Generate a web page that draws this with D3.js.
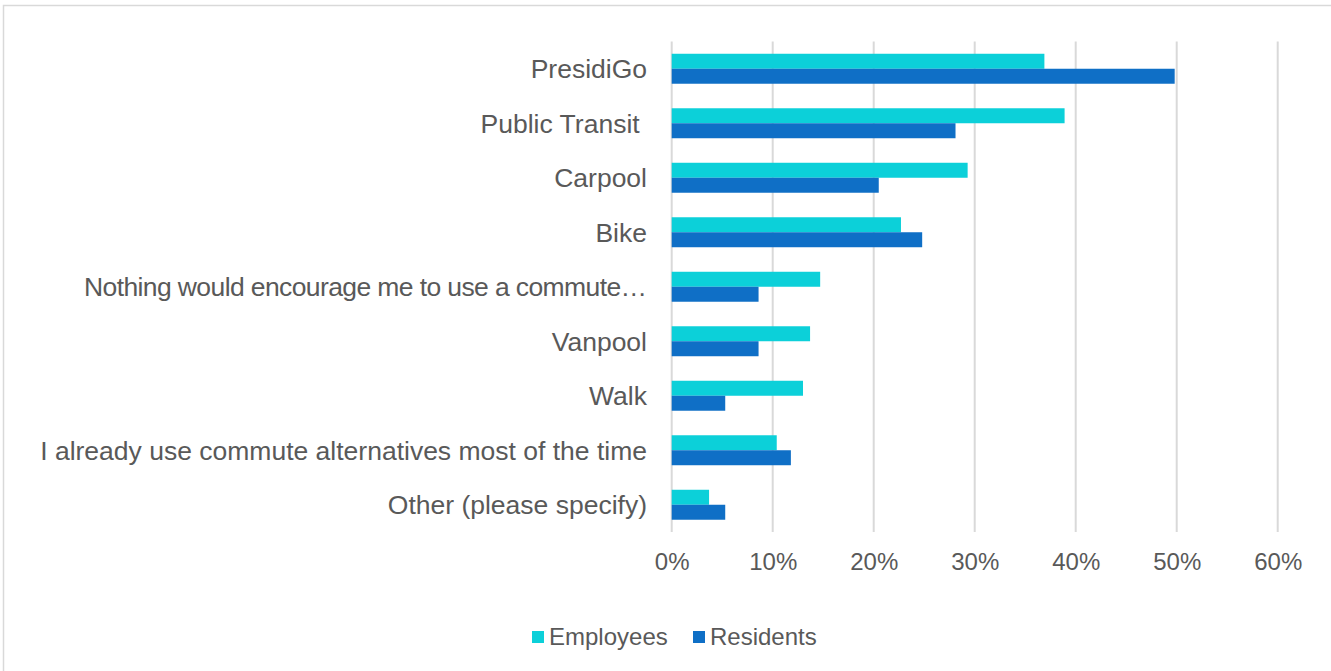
<!DOCTYPE html>
<html>
<head>
<meta charset="utf-8">
<script src="https://cdn.jsdelivr.net/npm/d3@7"></script>
<style>
  html, body { margin: 0; padding: 0; background: #fff; }
  svg { display: block; }
  text { font-family: "Liberation Sans", Arial, sans-serif; fill: #595959; white-space: pre; }
</style>
</head>
<body>
<svg id="chart" width="1331" height="671"></svg>
<script>
// Commute alternatives that would be used, by respondent group (share of respondents)
const categories = [
  "PresidiGo",
  "Public Transit ",
  "Carpool",
  "Bike",
  "Nothing would encourage me to use a commute\u2026",
  "Vanpool",
  "Walk",
  "I already use commute alternatives most of the time",
  "Other (please specify)"
];
const seriesNames = ["Employees", "Residents"];
const employees = [0.369, 0.389, 0.293, 0.227, 0.147, 0.137, 0.130, 0.104, 0.037];
const residents = [0.498, 0.281, 0.205, 0.248, 0.086, 0.086, 0.053, 0.118, 0.053];
const tickValues = [0, 0.1, 0.2, 0.3, 0.4, 0.5, 0.6];
const colors = ["#0cd0d9", "#0f6fc6"];

const svg = d3.select("#chart");

// outer frame
svg.append("rect")
  .attr("x", 3.5).attr("y", 5.5)
  .attr("width", 1340).attr("height", 680)
  .attr("fill", "none").attr("stroke", "#d9d9d9").attr("stroke-width", 1.5);

const plot = { left: 671.7, right: 1277.7, top: 41.5, bottom: 532 };

const x = d3.scaleLinear().domain([0, 0.6]).range([plot.left, plot.right]);
const y = d3.scaleBand().domain(categories).range([plot.top, plot.bottom]).paddingInner(0.45).paddingOuter(0.225);
const ySub = d3.scaleBand().domain(seriesNames).range([0, y.bandwidth()]);

// vertical gridlines
svg.append("g")
  .selectAll("line")
  .data(tickValues)
  .join("line")
  .attr("x1", d => x(d)).attr("x2", d => x(d))
  .attr("y1", plot.top).attr("y2", plot.bottom)
  .attr("stroke", "#d9d9d9").attr("stroke-width", 2);

// bars
const rows = categories.map((c, i) => ({ cat: c, vals: [employees[i], residents[i]] }));
const groups = svg.append("g")
  .selectAll("g")
  .data(rows)
  .join("g")
  .attr("transform", d => `translate(0,${y(d.cat)})`);

groups.selectAll("rect")
  .data(d => d.vals.map((v, j) => ({ name: seriesNames[j], v, j })))
  .join("rect")
  .attr("x", x(0))
  .attr("y", d => ySub(d.name))
  .attr("width", d => x(d.v) - x(0))
  .attr("height", ySub.bandwidth())
  .attr("fill", d => colors[d.j]);

// x axis labels
const xAxis = d3.axisBottom(x)
  .tickValues(tickValues)
  .tickFormat(d3.format(".0%"))
  .tickSize(0)
  .tickPadding(0);
const gx = svg.append("g")
  .attr("transform", `translate(0,${plot.bottom})`)
  .call(xAxis);
gx.select(".domain").remove();
gx.selectAll("text")
  .attr("y", 38)
  .attr("dy", null)
  .attr("font-size", 24)
  .attr("fill", "#595959")
  .style("font-family", '"Liberation Sans", Arial, sans-serif');

// category labels
const yAxis = d3.axisLeft(y).tickSize(0).tickPadding(0);
const gy = svg.append("g")
  .attr("transform", `translate(647,0)`)
  .call(yAxis);
gy.select(".domain").remove();
gy.selectAll("text")
  .attr("x", 0)
  .attr("dy", "0.35em")
  .attr("font-size", 26.5)
  .attr("fill", "#595959")
  .style("font-family", '"Liberation Sans", Arial, sans-serif')
  .style("white-space", "pre");
// the truncated label is set a little tighter so the ellipsis hugs the word
gy.selectAll("text")
  .filter(d => d.endsWith("\u2026"))
  .attr("textLength", 563)
  .attr("lengthAdjust", "spacing");

// legend
const legendItems = [
  { name: seriesNames[0], color: colors[0], x: 532 },
  { name: seriesNames[1], color: colors[1], x: 693 }
];
const lg = svg.append("g");
lg.selectAll("rect")
  .data(legendItems)
  .join("rect")
  .attr("x", d => d.x).attr("y", 631)
  .attr("width", 12).attr("height", 12)
  .attr("fill", d => d.color);
lg.selectAll("text")
  .data(legendItems)
  .join("text")
  .attr("x", d => d.x + 17)
  .attr("y", 637)
  .attr("dy", "0.35em")
  .attr("font-size", 24)
  .text(d => d.name);
</script>
</body>
</html>
